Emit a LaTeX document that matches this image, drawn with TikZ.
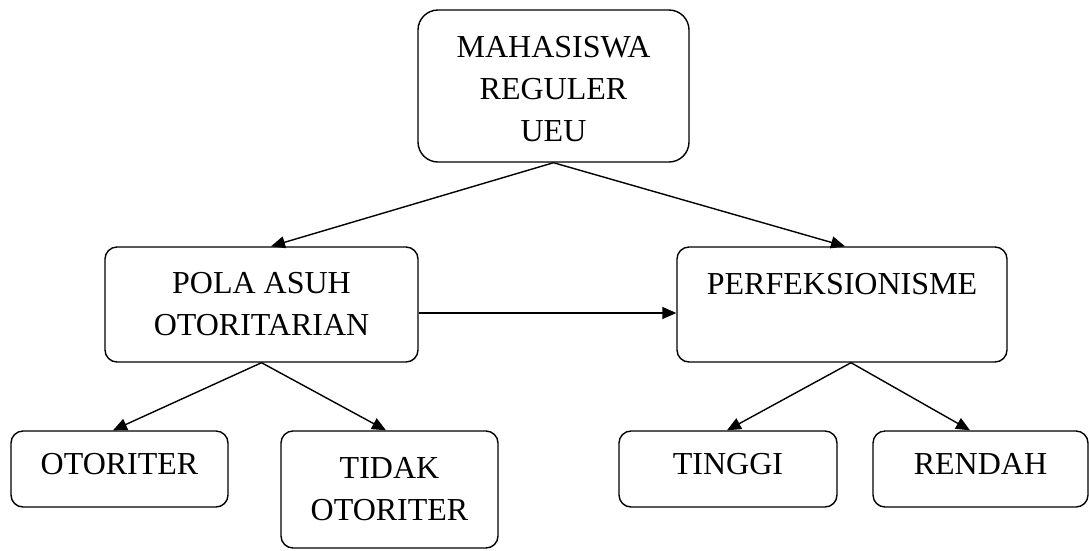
\documentclass[tikz,border=0pt]{standalone}
\usepackage{fontspec}
\setmainfont{Liberation Serif}
\usetikzlibrary{arrows.meta,calc}
\begin{document}
\begin{tikzpicture}[x=1pt,y=-1pt,
  box/.style={draw=black, line width=1.4pt, rounded corners=12pt, inner sep=0pt,
    align=center, font=\fontsize{32}{42}\selectfont},
  conn/.style={line width=1.4pt, -{Triangle[length=14pt,width=12pt]}}]
\useasboundingbox (0,0) rectangle (1089,550);
\node[box, rounded corners=20pt, minimum width=271pt, minimum height=152pt] (top) at (553.5,86)
  {\rule{0pt}{28pt}MAHASISWA\\REGULER\\UEU};
\node[box, minimum width=313pt, minimum height=115pt] (pola) at (261.5,304.5)
  {POLA ASUH\\OTORITARIAN};
\node[box, minimum width=330pt, minimum height=115pt] (perf) at (842,304.5)
  {PERFEKSIONISME\\\mbox{}};
\node[box, text depth=10pt, minimum width=217pt, minimum height=76pt] (oto) at (119.5,469)
  {OTORITER};
\node[box, minimum width=217pt, minimum height=117pt] (tidak) at (389.5,489.5)
  {TIDAK\\OTORITER};
\node[box, text depth=10pt, minimum width=218pt, minimum height=76pt] (tinggi) at (728,469)
  {TINGGI};
\node[box, text depth=10pt, minimum width=215pt, minimum height=76pt] (rendah) at (980.5,469)
  {RENDAH};
\draw[conn] (top.south) -- ($(pola.north)+(9.5,0)$);
\draw[conn] (top.south) -- ($(perf.north)+(3,0)$);
\draw[conn] ($(pola.east)+(0,8.5)$) -- ($(perf.west)+(0,8.5)$);
\draw[conn] (pola.south) -- ($(oto.north)+(-6.5,0)$);
\draw[conn] (pola.south) -- ($(tidak.north)+(-3.5,0)$);
\draw[conn] ($(perf.south)+(9,0)$) -- ($(tinggi.north)+(-1,0)$);
\draw[conn] ($(perf.south)+(9,0)$) -- ($(rendah.north)+(-10.5,0)$);
\end{tikzpicture}
\end{document}
